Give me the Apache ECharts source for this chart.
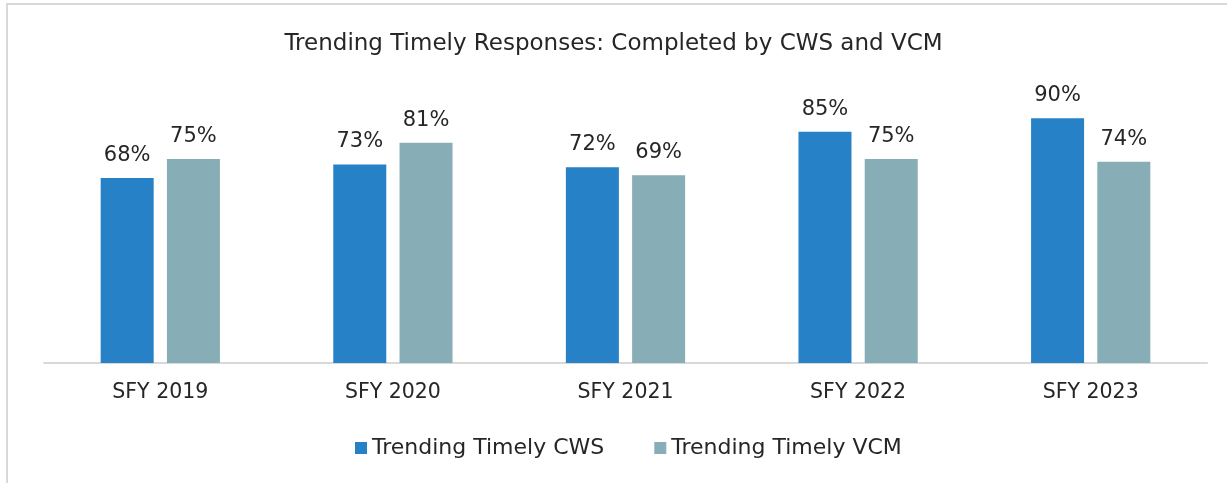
<!DOCTYPE html>
<html>
<head>
<meta charset="utf-8">
<script src="https://cdn.jsdelivr.net/npm/echarts@6/dist/echarts.min.js"></script>
<style>
    html, body {
        margin: 0;
        padding: 0;
        background: #fff;
    }
    #chart {
        width: 1227px;
        height: 483px;
    }
</style>
</head>
<body>
<div id="chart"></div>
<script>
var categories = ['SFY 2019', 'SFY 2020', 'SFY 2021', 'SFY 2022', 'SFY 2023'];
var cwsValues = [68, 73, 72, 85, 90];
var vcmValues = [75, 81, 69, 75, 74];
var seriesNames = ['Trending Timely CWS', 'Trending Timely VCM'];

var font = 'DejaVu Sans';
var myChart = echarts.init(document.getElementById('chart'));

myChart.setOption({
    animation: false,
    title: {
        text: 'Trending Timely Responses: Completed by CWS and VCM',
        left: 'center',
        top: 28,
        textStyle: {
            color: '#262626',
            fontFamily: font,
            fontWeight: 'normal',
            fontSize: 23
        }
    },
    graphic: [{
        type: 'rect',
        shape: {x: 7, y: 4, width: 1240, height: 500},
        style: {fill: 'none', stroke: '#d9d9d9', lineWidth: 2},
        silent: true
    }],
    legend: {
        data: seriesNames,
        left: 350,
        top: 432,
        itemWidth: 12,
        itemHeight: 12,
        itemGap: 50,
        icon: 'rect',
        textStyle: {
            color: '#262626',
            fontFamily: font,
            fontSize: 22
        }
    },
    grid: {
        left: 44,
        right: 20,
        top: 91,
        bottom: 120
    },
    xAxis: {
        type: 'category',
        data: categories,
        axisLine: {lineStyle: {color: '#d9d9d9', width: 2}},
        axisTick: {show: false},
        axisLabel: {
            color: '#262626',
            fontFamily: font,
            fontSize: 20.5,
            margin: 19
        }
    },
    yAxis: {
        type: 'value',
        min: 0,
        max: 100,
        show: false,
        splitLine: {show: false}
    },
    series: [
        {
            name: seriesNames[0],
            type: 'bar',
            data: cwsValues,
            barWidth: 53,
            barGap: '25%',
            itemStyle: {color: '#2781c6'},
            label: {
                show: true,
                position: 'top',
                distance: 12,
                formatter: '{c}%',
                color: '#262626',
                fontFamily: font,
                fontSize: 21
            }
        },
        {
            name: seriesNames[1],
            type: 'bar',
            data: vcmValues,
            barWidth: 53,
            itemStyle: {color: '#87adb6'},
            label: {
                show: true,
                position: 'top',
                distance: 12,
                formatter: '{c}%',
                color: '#262626',
                fontFamily: font,
                fontSize: 21
            }
        }
    ]
});
</script>
</body>
</html>
